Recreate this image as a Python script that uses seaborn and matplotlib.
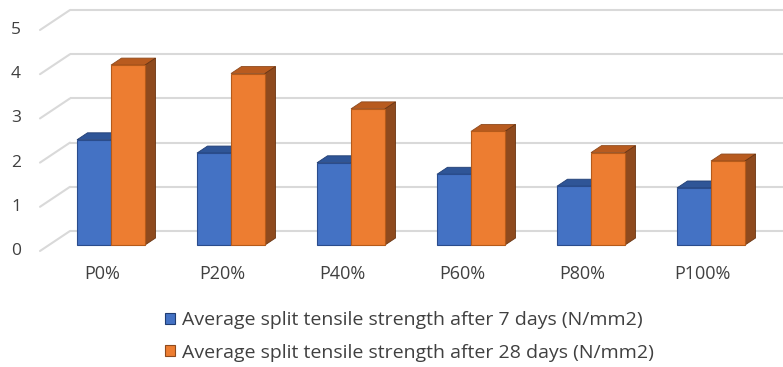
import numpy as np
import pandas as pd
import matplotlib
matplotlib.use("Agg")
import matplotlib.pyplot as plt
from matplotlib.patches import Polygon, Patch
import seaborn as sns

# Data
categories = ["P0%", "P20%", "P40%", "P60%", "P80%", "P100%"]
strength_7d = [2.38, 2.08, 1.86, 1.60, 1.33, 1.29]
strength_28d = [4.07, 3.88, 3.08, 2.57, 2.09, 1.90]
series_names = [
    "Average split tensile strength after 7 days (N/mm2)",
    "Average split tensile strength after 28 days (N/mm2)",
]
y_ticks = [0, 1, 2, 3, 4, 5]

df = pd.DataFrame({
    "category": categories * 2,
    "value": strength_7d + strength_28d,
    "series": [series_names[0]] * len(categories) + [series_names[1]] * len(categories),
})

sns.set_theme(style="white")
plt.rcParams["font.family"] = ["Open Sans", "DejaVu Sans"]

W, H = 783, 367
fig = plt.figure(figsize=(W / 100, H / 100), dpi=100)
ax = fig.add_axes([0, 0, 1, 1])

colors_front = ["#4472C4", "#ED7D31"]
colors_top = ["#2F5597", "#B85B1F"]
colors_side = ["#203D73", "#8E4A1E"]
colors_edge = ["#2A4C8C", "#B55A1A"]

sns.barplot(data=df, x="category", y="value", hue="series", order=categories,
            hue_order=series_names, palette=colors_front, width=0.567, gap=0,
            dodge=True, legend=False, ax=ax, zorder=3, saturation=1,
            edgecolor="none", linewidth=0)

# pixel geometry of the pseudo-3D frame (front plane of the bars)
x0_px, step_px = 111.0, 120.0      # first category centre, category spacing
base_px, unit_px = 245.0, 44.2     # bar baseline (from top), pixels per unit

def px_to_data(px, py):
    return (px - x0_px) / step_px, (base_px - py) / unit_px

xmin, ymax = px_to_data(0, 0)
xmax, ymin = px_to_data(W, H)
ax.set_xlim(xmin, xmax)
ax.set_ylim(ymin, ymax)
ax.axis("off")

# back wall gridlines and the slanted side-wall lines
wall_dx = 30 / step_px                    # depth of the side wall
front_dy = -6 / unit_px                   # front edge below bar plane
back_dy = 14 / unit_px                    # back wall above bar plane
wall_left = px_to_data(70, 0)[0]
grid_col = "#D9D9D9"
for v in y_ticks:
    yb = v + back_dy
    ax.plot([wall_left, xmax], [yb, yb], color=grid_col, lw=1.5, zorder=0,
            solid_capstyle="butt")
    ax.plot([wall_left - wall_dx, wall_left], [v + front_dy, yb], color=grid_col,
            lw=1.5, zorder=0)
    ax.text(px_to_data(16, 0)[0], v + front_dy, str(v), ha="center", va="center",
            fontsize=12.5, color="#404040")

# category labels along the front edge
label_y = px_to_data(0, 274)[1]
for i, c in enumerate(categories):
    ax.text(i - 9 / step_px, label_y, c, ha="center", va="center",
            fontsize=13, color="#404040")

# extrude each bar: top and side faces behind the front face
bar_dx, bar_dy = 10.5 / step_px, 7 / unit_px
n = len(categories)
for k, patch in enumerate(ax.patches[: 2 * n]):
    s = k // n
    x, y = patch.get_x(), patch.get_y()
    w, h = patch.get_width(), patch.get_height()
    top = Polygon([(x, y + h), (x + w, y + h), (x + w + bar_dx, y + h + bar_dy),
                   (x + bar_dx, y + h + bar_dy)], closed=True,
                  facecolor=colors_top[s], edgecolor=colors_side[s], lw=0.6, zorder=2)
    side = Polygon([(x + w, y), (x + w, y + h), (x + w + bar_dx, y + h + bar_dy),
                    (x + w + bar_dx, y + bar_dy)], closed=True,
                   facecolor=colors_side[s], edgecolor="#6B3512" if s else "#1A3260",
                   lw=0.6, zorder=2)
    ax.add_patch(top)
    ax.add_patch(side)
    patch.set_edgecolor(colors_edge[s])
    patch.set_linewidth(0.8)

handles = [Patch(facecolor=colors_front[i], edgecolor=colors_side[i], lw=0.8)
           for i in range(2)]
fig.legend(handles, series_names, loc="upper left",
           bbox_to_anchor=(165 / W, 1 - 311 / H), frameon=False, fontsize=14,
           labelcolor="#404040", handlelength=0.5, handleheight=0.5,
           handletextpad=0.4, labelspacing=0.75, borderpad=0, borderaxespad=0)

fig.savefig("out.png", dpi=100)
